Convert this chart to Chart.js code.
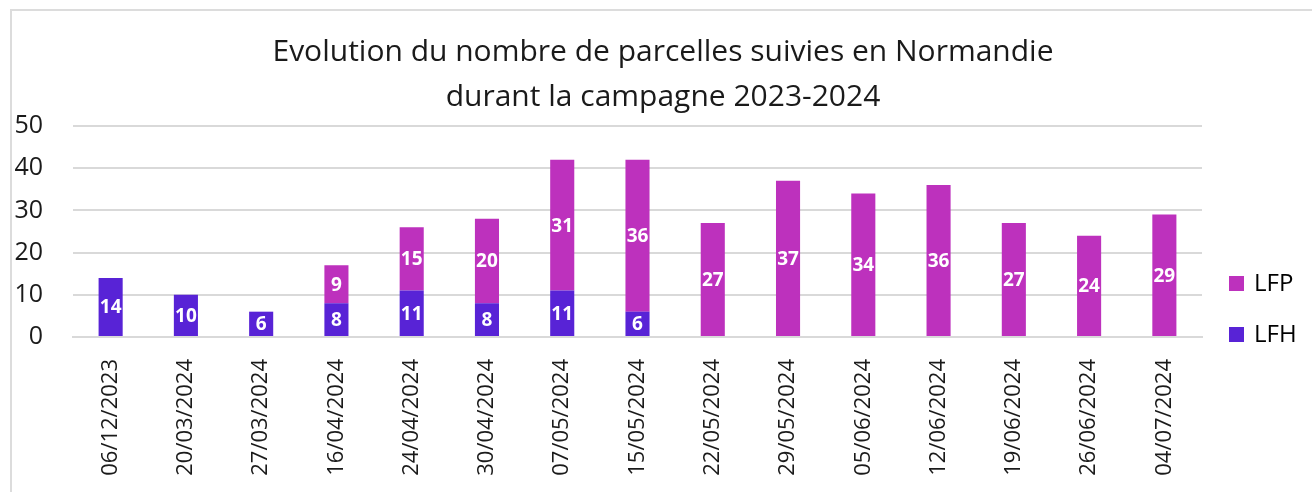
<!DOCTYPE html>
<html lang="fr">
<head>
<meta charset="utf-8">
<title>Parcelles suivies en Normandie</title>
<script src="https://cdn.jsdelivr.net/npm/chart.js@4"></script>
<style>
  body { margin: 0; background: #fff; }
  #wrap { position: relative; width: 1312px; height: 492px; overflow: hidden; }
  #cadre { position: absolute; left: 10px; top: 9px; width: 1400px; height: 600px;
           border-top: 2px solid #dcdcdc; border-left: 2px solid #dcdcdc; }
  #graph { position: absolute; left: 0; top: 0; }
</style>
</head>
<body>
<div id="wrap">
  <div id="cadre"></div>
  <canvas id="graph" width="1312" height="492"></canvas>
</div>
<script>
'use strict';

/*===== Données =====*/
const dates = ['06/12/2023', '20/03/2024', '27/03/2024', '16/04/2024', '24/04/2024',
  '30/04/2024', '07/05/2024', '15/05/2024', '22/05/2024', '29/05/2024',
  '05/06/2024', '12/06/2024', '19/06/2024', '26/06/2024', '04/07/2024'];
const lfh = [14, 10, 6, 8, 11, 8, 11, 6, 0, 0, 0, 0, 0, 0, 0];
const lfp = [0, 0, 0, 9, 15, 20, 31, 36, 27, 37, 34, 36, 27, 24, 29];
const yTicks = [0, 10, 20, 30, 40, 50];

const FONT = "'Open Sans', 'Noto Sans', sans-serif";
const cst = document.getElementById('graph').getContext('2d');

/*===== Etiquettes blanches dans les barres =====*/
const valeursPlugin = {
  id: 'valeurs',
  afterDatasetsDraw(chart) {
    const c = chart.ctx;
    c.save();
    c.fillStyle = '#ffffff';
    c.font = 'bold 19px ' + FONT;
    c.textAlign = 'center';
    c.textBaseline = 'middle';
    chart.data.datasets.forEach((ds, i) => {
      const meta = chart.getDatasetMeta(i);
      meta.data.forEach((bar, j) => {
        const v = ds.data[j];
        if (!v) return;
        const p = bar.getCenterPoint();
        c.fillText(String(v), p.x, p.y + 1);
      });
    });
    c.restore();
  }
};

/*===== Légende à droite (LFP en haut, LFH en bas) =====*/
const legendePlugin = {
  id: 'legende',
  afterDraw(chart) {
    const c = chart.ctx;
    const area = chart.chartArea;
    const items = chart.data.datasets.slice().reverse();
    c.save();
    c.font = '24px ' + FONT;
    c.textBaseline = 'middle';
    c.textAlign = 'left';
    items.forEach((ds, k) => {
      const y = area.bottom - 2 - (items.length - 1 - k) * 51;
      c.fillStyle = ds.backgroundColor;
      c.fillRect(area.right + 27, y - 8, 15, 15);
      c.fillStyle = '#000000';
      c.fillText(ds.label, area.right + 52, y);
    });
    c.restore();
  }
};

const myBarChart = new Chart(cst, {
  type: 'bar',
  data: {
    labels: dates,
    datasets: [
      { label: 'LFH', data: lfh, backgroundColor: '#5823d6', barPercentage: 0.32, categoryPercentage: 1 },
      { label: 'LFP', data: lfp, backgroundColor: '#bd31bd', barPercentage: 0.32, categoryPercentage: 1 }
    ]
  },
  plugins: [valeursPlugin, legendePlugin],
  options: {
    responsive: false,
    animation: false,
    layout: { padding: { left: 14, right: 0, top: 0, bottom: 0 } },
    plugins: {
      legend: { display: false },
      tooltip: { enabled: false },
      title: {
        display: true,
        text: ['Evolution du nombre de parcelles suivies en Normandie', 'durant la campagne 2023-2024'],
        color: '#1a1a1a',
        font: { family: FONT, size: 30, weight: 'normal', lineHeight: '45px' },
        padding: { top: 30, bottom: 6 }
      }
    },
    scales: {
      x: {
        stacked: true,
        grid: { display: false },
        border: { display: true, color: '#d9d9d9', width: 2 },
        ticks: {
          color: '#1a1a1a',
          font: { family: FONT, size: 22 },
          minRotation: 90,
          maxRotation: 90,
          padding: 14,
          autoSkip: false
        },
        afterFit(scale) { scale.height = 155; }
      },
      y: {
        stacked: true,
        min: 0,
        max: 50,
        afterBuildTicks(scale) { scale.ticks = yTicks.map(v => ({ value: v })); },
        grid: { color: '#d9d9d9', lineWidth: 2, drawTicks: false },
        border: { display: false },
        ticks: {
          color: '#1a1a1a',
          font: { family: FONT, size: 25 },
          padding: 30
        },
        afterFit(scale) { scale.width = 59; }
      },
      // axe vide à droite : réserve la place de la légende
      yLegende: {
        position: 'right',
        min: 0,
        max: 50,
        grid: { display: false },
        border: { display: false },
        ticks: { display: false },
        afterFit(scale) { scale.width = 110; }
      }
    }
  }
});
</script>
</body>
</html>
